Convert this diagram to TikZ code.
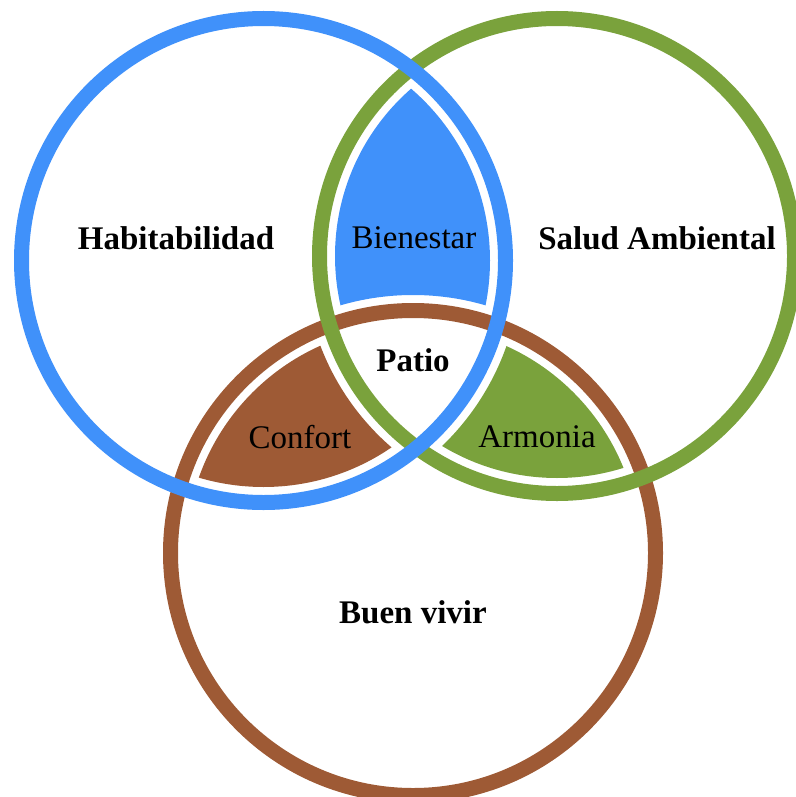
\documentclass[tikz,border=0pt]{standalone}
\usepackage{fontspec}
\setmainfont{Liberation Serif}
\definecolor{cblue}{RGB}{64,145,250}
\definecolor{cgreen}{RGB}{122,162,60}
\definecolor{cbrown}{RGB}{158,90,53}
\begin{document}
\begin{tikzpicture}[x=1pt,y=-1pt,
  ring/.style={line width=15pt},
  big/.style={font=\fontsize{33}{40}\selectfont\bfseries, inner sep=0pt},
  small/.style={font=\fontsize{33}{40}\selectfont, inner sep=0pt}]
\useasboundingbox (0,0) rectangle (795,797);
\coordinate (B) at (263.5,260.5);
\coordinate (G) at (557,256);
\coordinate (R) at (413,553);
\def\rb{242}\def\rg{237.5}\def\rr{242.5}\def\off{15.5}
% Bienestar region
\begin{scope}
  \clip (B) circle ({\rb-\off});
  \clip (G) circle ({\rg-\off});
  \fill[cblue, even odd rule] (-10,-10) rectangle (805,807) (R) circle ({\rr+\off});
\end{scope}
% Confort region
\begin{scope}
  \clip (B) circle ({\rb-\off});
  \clip (R) circle ({\rr-\off});
  \fill[cbrown, even odd rule] (-10,-10) rectangle (805,807) (G) circle ({\rg+\off});
\end{scope}
% Armonia region
\begin{scope}
  \clip (G) circle ({\rg-\off});
  \clip (R) circle ({\rr-\off});
  \fill[cgreen, even odd rule] (-10,-10) rectangle (805,807) (B) circle ({\rb+\off});
\end{scope}
\draw[ring, cbrown] (R) circle (\rr);
\draw[ring, cgreen] (G) circle (\rg);
\draw[ring, cblue] (B) circle (\rb);
\node[big] (hab) at (176,238) {Habitabilidad};
\node[small] (bie) at (414,238) {Bienestar};
\node[big] (sal) at (657,238) {Salud Ambiental};
\node[big] (pat) at (413,360) {Patio};
\node[small] (con) at (300,437) {Confort};
\node[small] (arm) at (537,437) {Armonia};
\node[big] (buen) at (413,612) {Buen vivir};
\end{tikzpicture}
\end{document}
